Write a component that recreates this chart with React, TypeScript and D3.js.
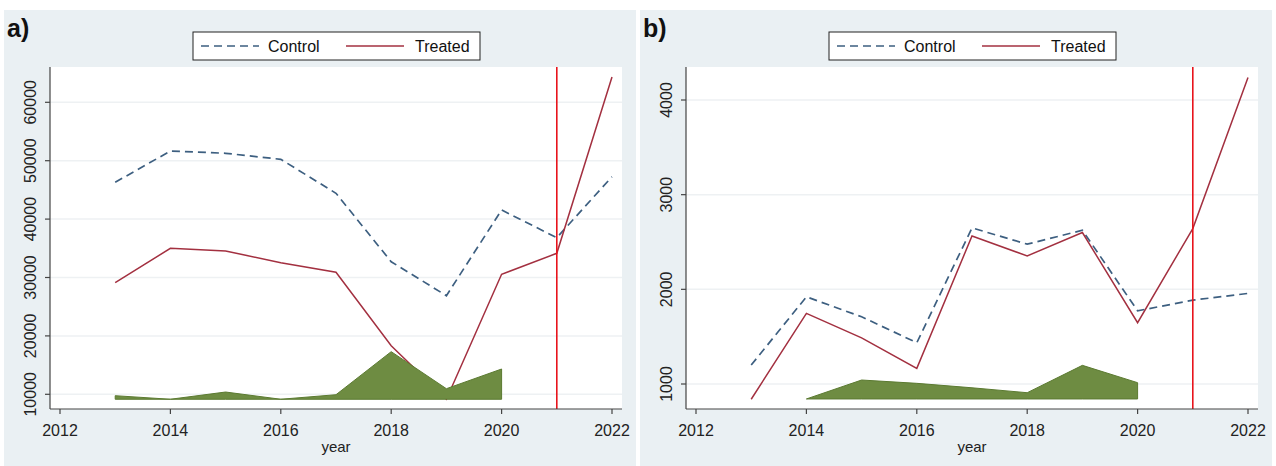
import React from "react";
import * as d3 from "d3";

const years = [2013, 2014, 2015, 2016, 2017, 2018, 2019, 2020, 2021, 2022];
const xTicks = [2012, 2014, 2016, 2018, 2020, 2022];
const policyYear = 2021;

const controlA = [46300, 51660, 51270, 50240, 44420, 32700, 26880, 41560, 36820, 47260];
const treatedA = [29110, 35000, 34540, 32540, 30890, 18320, 9150, 30550, 34140, 64330];
const gapYearsA = [2013, 2014, 2015, 2016, 2017, 2018, 2019, 2020];
const gapA = [9760, 9150, 10390, 9150, 9930, 17300, 10960, 14330];
const gapBaseA = 9150;
const yTicksA = [10000, 20000, 30000, 40000, 50000, 60000];

const controlB = [1200, 1921, 1710, 1436, 2649, 2477, 2624, 1773, 1886, 1957];
const treatedB = [839, 1746, 1488, 1165, 2564, 2353, 2600, 1647, 2642, 4238];
const gapYearsB = [2014, 2015, 2016, 2017, 2018, 2019, 2020];
const gapB = [842, 1042, 1007, 960, 908, 1197, 1014];
const gapBaseB = 842;
const yTicksB = [1000, 2000, 3000, 4000];

const FONT = "'Liberation Sans', Arial, sans-serif";

type PanelProps = {
  label: string;
  left: number;
  control: number[];
  treated: number[];
  gapYears: number[];
  gap: number[];
  gapBase: number;
  yTicks: number[];
  yRange: [number, number];
};

function Panel(p: PanelProps) {
  const L = p.left;
  const bgX = L + 4;
  const bgW = 632;
  const plotL = L + 50;
  const plotR = L + 622;
  const plotT = 67;
  const plotB = 409;
  const x = d3.scaleLinear().domain([2012, 2022]).range([L + 60, L + 612]);
  const y = d3
    .scaleLinear()
    .domain([p.yTicks[0], p.yTicks[p.yTicks.length - 1]])
    .range(p.yRange);

  const line = d3
    .line<number>()
    .x((_, i) => x(years[i]))
    .y((d) => y(d));
  const area = d3
    .area<number>()
    .x((_, i) => x(p.gapYears[i]))
    .y0(() => y(p.gapBase))
    .y1((d) => y(d));

  const legX = L + 193;
  return (
    <g>
      <rect x={bgX} y={10} width={bgW} height={456} fill="#eaf0f3" />
      <text x={L + 7} y={37} fontFamily={FONT} fontWeight="bold" fontSize={25} fill="#111">
        {p.label}
      </text>
      {/* legend */}
      <rect x={legX} y={32} width={287} height={28} fill="#ffffff" stroke="#222" strokeWidth={1} />
      <line x1={legX + 8} x2={legX + 66} y1={46} y2={46} stroke="#3d5f80" strokeWidth={1.6} strokeDasharray="8,5" />
      <text x={legX + 75} y={52} fontFamily={FONT} fontSize={16} fill="#111">Control</text>
      <line x1={legX + 153} x2={legX + 211} y1={46} y2={46} stroke="#a33040" strokeWidth={1.6} />
      <text x={legX + 222} y={52} fontFamily={FONT} fontSize={16} fill="#111">Treated</text>

      {/* plot region */}
      <rect x={plotL} y={plotT} width={plotR - plotL} height={plotB - plotT} fill="#ffffff" />
      {p.yTicks.map((t) => (
        <line key={"g" + t} x1={plotL} x2={plotR} y1={y(t)} y2={y(t)} stroke="#eef1f3" strokeWidth={1.5} />
      ))}

      <path d={line(p.control) || ""} fill="none" stroke="#3d5f80" strokeWidth={1.7} strokeDasharray="8,5" />
      <path d={line(p.treated) || ""} fill="none" stroke="#a33040" strokeWidth={1.5} />
      <path d={area(p.gap) || ""} fill="#6e8c42" stroke="#5b7a31" strokeWidth={1} />
      <line x1={x(policyYear)} x2={x(policyYear)} y1={plotT} y2={plotB} stroke="#e8141c" strokeWidth={1.6} />

      {/* axes */}
      <line x1={plotL} x2={plotL} y1={plotT} y2={plotB} stroke="#444" strokeWidth={1.2} />
      <line x1={plotL} x2={plotR} y1={plotB} y2={plotB} stroke="#444" strokeWidth={1.2} />
      {p.yTicks.map((t) => (
        <g key={"y" + t}>
          <line x1={plotL - 5} x2={plotL} y1={y(t)} y2={y(t)} stroke="#444" strokeWidth={1.2} />
          <text
            transform={`translate(${L + 36},${y(t)}) rotate(-90)`}
            textAnchor="middle"
            fontFamily={FONT}
            fontSize={16}
            fill="#222"
          >
            {t}
          </text>
        </g>
      ))}
      {xTicks.map((t) => (
        <g key={"x" + t}>
          <line x1={x(t)} x2={x(t)} y1={plotB} y2={plotB + 5} stroke="#444" strokeWidth={1.2} />
          <text x={x(t)} y={436} textAnchor="middle" fontFamily={FONT} fontSize={16} fill="#222">
            {t}
          </text>
        </g>
      ))}
      <text x={(plotL + plotR) / 2 + 0} y={452} textAnchor="middle" fontFamily={FONT} fontSize={15} fill="#222">
        year
      </text>
    </g>
  );
}

export default function App() {
  return (
    <svg
      width={1276}
      height={466}
      style={{ position: "absolute", left: 0, top: 0, background: "#ffffff" }}
    >
      <Panel
        label="a)"
        left={0}
        control={controlA}
        treated={treatedA}
        gapYears={gapYearsA}
        gap={gapA}
        gapBase={gapBaseA}
        yTicks={yTicksA}
        yRange={[394.3, 102.3]}
      />
      <Panel
        label="b)"
        left={636}
        control={controlB}
        treated={treatedB}
        gapYears={gapYearsB}
        gap={gapB}
        gapBase={gapBaseB}
        yTicks={yTicksB}
        yRange={[384, 100]}
      />
    </svg>
  );
}
